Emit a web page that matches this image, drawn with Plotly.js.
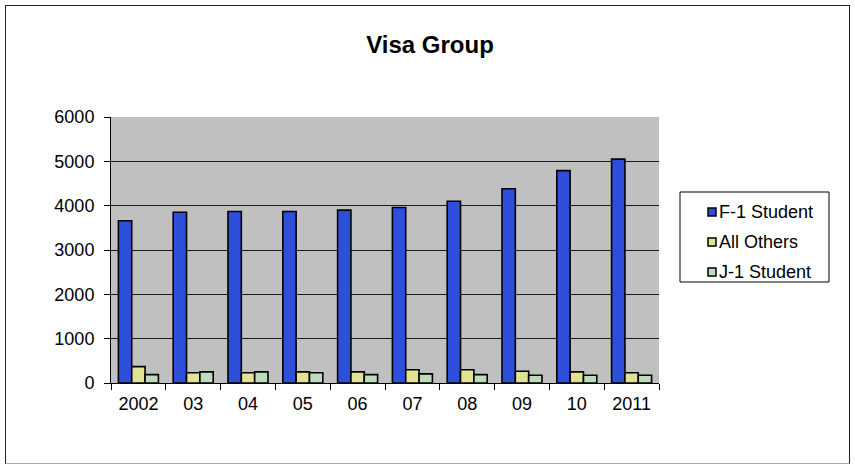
<!DOCTYPE html>
<html>
<head>
<meta charset="utf-8">
<script src="https://cdn.plot.ly/plotly-3.0.1.min.js"></script>
<style>
  html, body { margin: 0; padding: 0; background: #ffffff; }
  #wrap { position: relative; width: 855px; height: 464px; }
  #chart { position: absolute; left: 0; top: 0; width: 855px; height: 464px; }
  #frame { position: absolute; left: 5px; top: 5px; width: 843px; height: 457px;
           border: 1px solid #222; border-bottom-color: #aaa; pointer-events: none; }
</style>
</head>
<body>
<div id="wrap">
  <div id="chart"></div>
  <div id="frame"></div>
</div>
<script>
const categories = ["2002", "03", "04", "05", "06", "07", "08", "09", "10", "2011"];
const f1Student = [3660, 3850, 3870, 3870, 3900, 3960, 4100, 4380, 4790, 5050];
const allOthers = [370, 230, 230, 250, 250, 300, 300, 265, 250, 230];
const j1Student = [190, 250, 250, 230, 190, 205, 190, 175, 175, 175];
const seriesNames = ["F-1 Student", "All Others", "J-1 Student"];
const seriesColors = ["#2d4fdc", "#e2e294", "#bcdcbc"];
const yTicks = [0, 1000, 2000, 3000, 4000, 5000, 6000];

const W = 855, H = 464;
const M = { l: 111, r: 196, t: 117, b: 81 };
const pw = W - M.l - M.r, ph = H - M.t - M.b;
const px = v => (v - M.l) / pw;          // pixel x -> paper x
const py = v => (H - M.b - v) / ph;      // pixel y -> paper y

const seriesValues = [f1Student, allOthers, j1Student];
const traces = seriesValues.map((vals, i) => ({
  type: "bar",
  name: seriesNames[i],
  x: categories,
  y: vals,
  marker: { color: seriesColors[i], line: { color: "#000000", width: 1.6 } },
  hoverinfo: "x+y+name"
}));

const font = "Liberation Sans, Arial, sans-serif";

// custom legend (box, swatches, labels)
const shapes = [{
  type: "rect", xref: "paper", yref: "paper",
  x0: px(680), x1: px(829), y0: py(282), y1: py(192),
  line: { color: "#000000", width: 1 }, fillcolor: "#ffffff", layer: "above"
}];
const annotations = [];
seriesNames.forEach((name, i) => {
  const cy = 212 + i * 30;
  shapes.push({
    type: "rect", xref: "paper", yref: "paper",
    x0: px(708), x1: px(716), y0: py(cy + 4), y1: py(cy - 4),
    line: { color: "#000000", width: 1.5 }, fillcolor: seriesColors[i], layer: "above"
  });
  annotations.push({
    xref: "paper", yref: "paper", x: px(717), y: py(cy),
    xanchor: "left", yanchor: "middle", showarrow: false,
    text: name, font: { family: font, size: 18, color: "#000000" }
  });
});

const layout = {
  width: W,
  height: H,
  paper_bgcolor: "#ffffff",
  plot_bgcolor: "#c0c0c0",
  margin: M,
  barmode: "group",
  bargap: 0.27,
  bargroupgap: 0,
  showlegend: false,
  title: {
    text: "<b>Visa Group</b>",
    font: { family: font, size: 24, color: "#000000" },
    x: 430 / W, xref: "container", xanchor: "center",
    y: 1 - 45 / H, yref: "container", yanchor: "middle"
  },
  xaxis: {
    type: "category",
    tickson: "boundaries",
    ticks: "outside",
    ticklen: 6,
    tickcolor: "#000000",
    showline: true,
    linecolor: "#000000",
    linewidth: 1,
    showgrid: false,
    tickfont: { family: font, size: 18, color: "#000000" },
    ticklabelstandoff: 4
  },
  yaxis: {
    range: [0, 6000],
    tickvals: yTicks,
    ticktext: yTicks.map(String),
    ticks: "outside",
    ticklen: 6,
    tickcolor: "#000000",
    showline: true,
    linecolor: "#000000",
    linewidth: 1,
    showgrid: true,
    gridcolor: "#1a1a1a",
    gridwidth: 1,
    zeroline: false,
    tickfont: { family: font, size: 18, color: "#000000" },
    ticklabelstandoff: 6
  },
  shapes: shapes,
  annotations: annotations
};

Plotly.newPlot("chart", traces, layout, { displayModeBar: false, staticPlot: true });
</script>
</body>
</html>
